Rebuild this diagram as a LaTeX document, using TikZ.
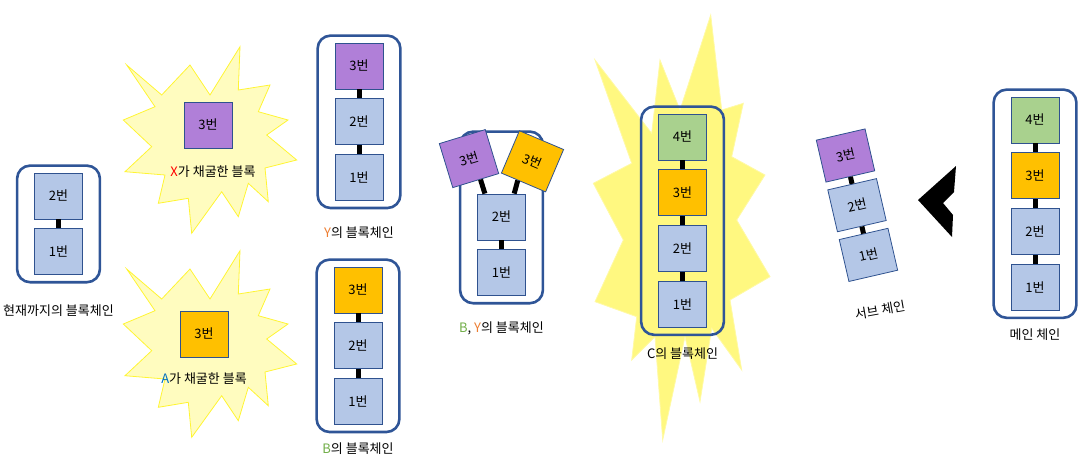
\documentclass[tikz,border=0pt]{standalone}
\usepackage{fontspec}
\setmainfont{Noto Sans CJK KR}
\usetikzlibrary{
  positioning,
  fit,
  calc,
  backgrounds
}
\definecolor{blk}{HTML}{B4C7E7}
\definecolor{prp}{HTML}{B07FD8}
\definecolor{org}{HTML}{FFC000}
\definecolor{grn}{HTML}{A9D18E}
\definecolor{edge}{HTML}{2F528F}
\definecolor{chn}{HTML}{2F5597}
\definecolor{xred}{HTML}{FF0000}
\definecolor{ablue}{HTML}{0070C0}
\definecolor{yorg}{HTML}{ED7D31}
\definecolor{bgrn}{HTML}{70AD47}
\tikzset{
  block/.style={draw=edge, line width=.8pt, fill=#1, minimum width=48pt,
    minimum height=46pt, inner sep=0pt, font=\fontsize{13}{13}\selectfont},
  block/.default=blk,
  link/.style={line width=5pt, black},
  chainbox/.style={draw=chn, line width=2.6pt, rounded corners=13pt,
    inner xsep=17pt, inner ysep=7pt},
  caption/.style={inner sep=0pt, font=\fontsize{13}{13}\selectfont},
  burst/.style={fill=yellow!25, draw=yellow!80, line width=.8pt},
  bigburst/.style={fill=yellow!50, draw=yellow!35, line width=.8pt}
}

\begin{document}
\begin{tikzpicture}[x=1pt, y=-1pt]
  \useasboundingbox (0,0) rectangle (1091,466);
  % chain so far
  \node[block] (cur2) at (58.5,196) {2번};
  \node[block, below=9pt of cur2] (cur1) {1번};
  \draw[link] (cur2) -- (cur1);
  % mined blocks
  \node[block=prp] (xblk) at (208,125) {3번};
  \node[block=org] (ablk) at (204,334) {3번};
  % chain of Y
  \node[block=prp] (y3) at (359,66) {3번};
  \node[block, below=9pt of y3] (y2) {2번};
  \node[block, below=9pt of y2] (y1) {1번};
  \draw[link] (y3) -- (y2) (y2) -- (y1);
  % chain of B
  \node[block=org] (b3) at (358,290) {3번};
  \node[block, below=9pt of b3] (b2) {2번};
  \node[block, below=9pt of b2] (b1) {1번};
  \draw[link] (b3) -- (b2) (b2) -- (b1);
  % fork of B and Y
  \node[block] (byb2) at (501.5,217) {2번};
  \node[block, below=9pt of byb2] (byb1) {1번};
  \node[block=prp, rotate=17] (byx) at (469,158.6) {3번};
  \node[block=org, rotate=-23] (bya) at (532.5,161.3) {3번};
  \coordinate (bytop) at ($(byb2.north)+(0,-55)$);
  \draw[link] (byb2) -- (byb1);
  \draw[link] ($(byx.south)!.2!(byx.south east)$) -- ($(byb2.north west)!.16!(byb2.north east)$);
  \draw[link] ($(bya.south)!.25!(bya.south west)$) -- ($(byb2.north west)!.76!(byb2.north east)$);
  % chain of C
  \node[block=grn] (c4) at (682.5,137) {4번};
  \node[block=org, below=9pt of c4] (c3) {3번};
  \node[block, below=9pt of c3] (c2) {2번};
  \node[block, below=9pt of c2] (c1) {1번};
  \draw[link] (c4) -- (c3) (c3) -- (c2) (c2) -- (c1);
  % sub chain, tilted
  \begin{scope}[shift={(845.5,155.5)}, rotate=13, transform shape]
    \node[block=prp, minimum width=50pt, minimum height=43pt] (s3) at (0,0) {3번};
    \node[block, minimum width=50pt, minimum height=43pt] (s2) at (0,51) {2번};
    \node[block, minimum width=50pt, minimum height=43pt] (s1) at (0,102) {1번};
  \end{scope}
  \draw[link] (s3) -- (s2) (s2) -- (s1);
  \fill (918,200) -- (956,166) -- (954,192) -- (943,203) -- (953,215) -- (952,237) -- cycle;
  % main chain
  \node[block=grn] (m4) at (1035,120) {4번};
  \node[block=org, below=9pt of m4] (m3) {3번};
  \node[block, below=9pt of m3] (m2) {2번};
  \node[block, below=9pt of m2] (m1) {1번};
  \draw[link] (m4) -- (m3) (m3) -- (m2) (m2) -- (m1);

  \begin{scope}[on background layer]
    \foreach \dy in {0,204}
      \draw[burst, shift={(0,\dy)}] (126.7,65) -- (161.7,95) -- (190,65) -- (210,95)
        -- (240,46.7) -- (238.3,90) -- (270,85) -- (258.3,111.7) -- (288,120)
        -- (266.7,135) -- (296.7,160) -- (265,168) -- (268.3,201.7) -- (248.3,183.3)
        -- (238.3,216.7) -- (221.7,191.7) -- (191.7,233.3) -- (188.3,198.3)
        -- (158.3,203.3) -- (165,175) -- (125,171.7) -- (151.7,146.7) -- (123.3,120)
        -- (155,106.7) -- cycle;
    \draw[bigburst] (710.7,15) -- (721.7,110) -- (743.3,103.3) -- (731.7,156.7)
      -- (765,175) -- (736.7,220) -- (770,276.7) -- (730,300) -- (741.7,370)
      -- (711.7,328.3) -- (700,401.7) -- (685,336.7) -- (662.7,440) -- (655,336.7)
      -- (631.7,360) -- (636.7,316.7) -- (595,301.7) -- (623.3,240) -- (593.3,183.3)
      -- (631.7,163.3) -- (595,60) -- (651.7,133.3) -- (660,60) -- (680,110) -- cycle;
    \node[chainbox, fit=(cur2)(cur1)] (curbox) {};
    \node[chainbox, fit=(y3)(y1)] (ybox) {};
    \node[chainbox, fit=(b3)(b1)] (bbox) {};
    \node[chainbox, fit=(bytop)(byb1)] (bybox) {};
    \node[chainbox, fit=(c4)(c1)] (cbox) {};
    \node[chainbox, fit=(m4)(m1)] (mbox) {};
  \end{scope}

  % captions
  \node[caption, below=21pt of curbox] {현재까지의 블록체인};
  \node[caption, below=17pt of xblk, xshift=5pt] {{\color{xred}X}가 채굴한 블록};
  \node[caption, below=15pt of ablk] {{\color{ablue}A}가 채굴한 블록};
  \node[caption, below=17pt of ybox] {{\color{yorg}Y}의 블록체인};
  \node[caption, below=9pt of bbox] {{\color{bgrn}B}의 블록체인};
  \node[caption, below=17pt of bybox] {{\color{bgrn}B}, {\color{yorg}Y}의 블록체인};
  \node[caption, below=11pt of cbox] {C의 블록체인};
  \node[caption, rotate=10] (subcap) at (880,310) {서브 체인};
  \node[caption, below=9pt of mbox] {메인 체인};
\end{tikzpicture}
\end{document}
